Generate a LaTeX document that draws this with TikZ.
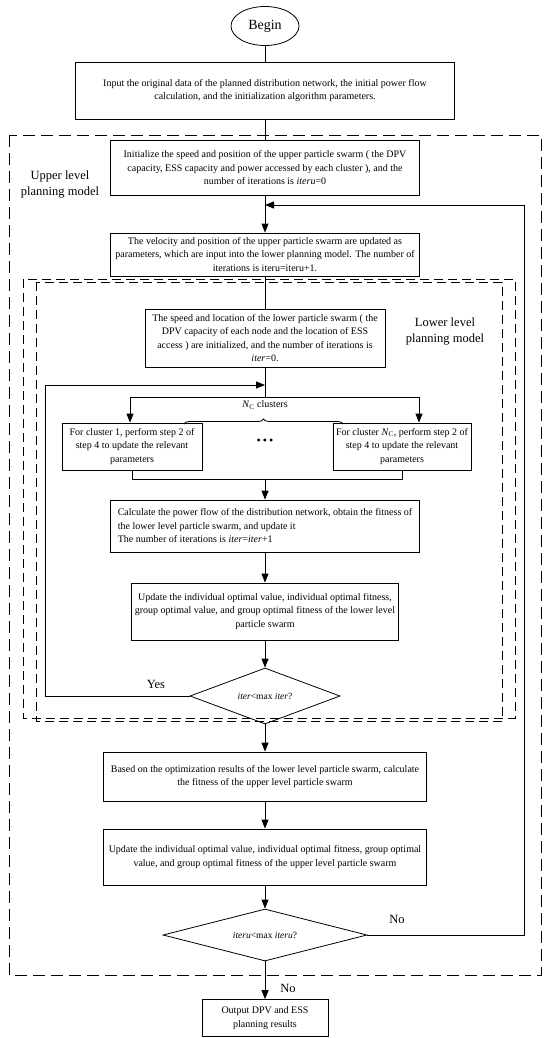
\documentclass[tikz,border=0pt]{standalone}
\usepackage{fontspec}
\setmainfont{Liberation Serif}
\usetikzlibrary{arrows.meta,shapes.geometric,decorations.pathreplacing}
\begin{document}
\begin{tikzpicture}[x=1pt,y=-1pt,
  box/.style={draw, line width=0.8pt, align=center, inner sep=1pt,
    font=\fontsize{10}{13.5}\selectfont},
  dia/.style={draw, diamond, line width=0.8pt, aspect=2.7, inner sep=0pt,
    font=\fontsize{9.5}{11}\selectfont},
  arr/.style={line width=0.8pt, -{Triangle[length=9pt,width=7pt]}},
  ln/.style={line width=0.8pt},
  bigtxt/.style={align=center, inner sep=0pt, font=\fontsize{12.5}{16}\selectfont},
  outerdash/.style={line width=0.8pt, dash pattern=on 12pt off 6pt},
  innerdash/.style={line width=0.8pt, dash pattern=on 9pt off 5pt}]
\useasboundingbox (0,0) rectangle (550,1038);

% dashed frames
\draw[outerdash] (9,135) rectangle (541,975);
\draw[innerdash] (23,279) rectangle (515,718);
\draw[innerdash] (36,282) rectangle (502,721);

% nodes
\node[draw, ellipse, line width=0.8pt, minimum width=68pt, minimum height=39pt, inner sep=0pt,
  font=\fontsize{14}{16}\selectfont] (begin) at (265,26) {Begin};
\node[box, minimum width=379pt, minimum height=57pt] (input) at (265,90.5)
  {Input the original data of the planned distribution network, the initial power flow\\
   calculation, and the initialization algorithm parameters.};
\node[box, minimum width=309pt, minimum height=55.5pt] (upinit) at (265,168)
  {Initialize the speed and position of the upper particle swarm ( the DPV\\
   capacity, ESS capacity and power accessed by each cluster ), and the\\
   number of iterations is \textit{iteru}=0};
\node[box, minimum width=309pt, minimum height=43pt] (upupd) at (265,254.5)
  {The velocity and position of the upper particle swarm are updated as\\
   parameters, which are input into the lower planning model. The number of\\
   iterations is iteru=iteru+1.};
\node[box, minimum width=240pt, minimum height=58pt] (lowinit) at (265,338)
  {The speed and location of the lower particle swarm ( the\\
   DPV capacity of each node and the location of ESS\\
   access ) are initialized, and the number of iterations is\\
   \textit{iter}=0.};
\node[box, minimum width=140pt, minimum height=47pt] (left) at (132,446.5)
  {For cluster 1, perform step 2 of\\ step 4 to update the relevant\\ parameters};
\node[box, minimum width=138pt, minimum height=47pt] (right) at (402,446.5)
  {For cluster \textit{N}\textsubscript{C}, perform step 2 of\\ step 4 to update the relevant\\ parameters};
\node[font=\fontsize{12}{14}\selectfont, inner sep=0pt] (dots) at (265,442)
  {\textbullet\,\textbullet\,\textbullet};
\node[font=\fontsize{10}{12}\selectfont, inner sep=0pt] (nclabel) at (265,405)
  {\textit{N}\textsubscript{C} clusters};
\node[box, align=left, minimum width=309pt, minimum height=52pt] (calc) at (265,526)
  {Calculate the power flow of the distribution network, obtain the fitness of\\
   the lower level particle swarm, and update it\\
   The number of iterations is \textit{iter}=\textit{iter}+1};
\node[box, minimum width=267pt, minimum height=57pt] (lowupd) at (265,611.5)
  {Update the individual optimal value, individual optimal fitness,\\
   group optimal value, and group optimal fitness of the lower level\\
   particle swarm};
\node[dia, minimum width=150pt, minimum height=56pt] (d1) at (265,696)
  {\textit{iter}<max \textit{iter}?};
\node[box, minimum width=323pt, minimum height=49pt] (upfit) at (265,776.5)
  {Based on the optimization results of the lower level particle swarm, calculate\\
   the fitness of the upper level particle swarm};
\node[box, minimum width=323pt, minimum height=56pt] (upupd2) at (265,857)
  {Update the individual optimal value, individual optimal fitness, group optimal\\
   value, and group optimal fitness of the upper level particle swarm};
\node[dia, minimum width=204pt, minimum height=52pt] (d2) at (265,935)
  {\textit{iteru}<max \textit{iteru}?};
\node[box, minimum width=126pt, minimum height=37pt] (output) at (265,1018)
  {Output DPV and ESS\\ planning results};

% labels
\node[bigtxt] (uplab) at (60,185) {Upper level\\planning model};
\node[bigtxt] (lowlab) at (445,332) {Lower level\\planning model};
\node[bigtxt] (yes) at (156,684) {Yes};
\node[bigtxt] (no1) at (397,919) {No};
\node[bigtxt] (no2) at (288,988) {No};

% helper coordinates
\coordinate (loopin) at (265,385);
\coordinate (split) at (265,397);
\coordinate (splitL) at (130,397);
\coordinate (splitR) at (419,397);
\coordinate (mergeL) at (132,479);
\coordinate (mergeR) at (402,479);
\coordinate (merge) at (265,479);
\coordinate (yesc) at (45,696);
\coordinate (yesu) at (45,385);
\coordinate (upin) at (265,205);
\coordinate (noc) at (524,935);
\coordinate (nou) at (524,205);

% connectors
\draw[ln] (begin) -- (input);
\draw[ln] (input) -- (upinit);
\draw[arr] (upinit) -- (upupd);
\draw[ln] (upupd) -- (lowinit);
\draw[ln] (lowinit.south) -- (split);
\draw[ln] (splitL) -- (splitR);
\draw[arr] (splitL) -- (splitL |- left.north);
\draw[arr] (splitR) -- (splitR |- right.north);
\draw[ln] (left.south -| mergeL) -- (mergeL) -- (mergeR) -- (right.south -| mergeR);
\draw[arr] (merge) -- (calc.north);
\draw[arr] (calc) -- (lowupd);
\draw[arr] (lowupd) -- (d1);
\draw[arr] (d1) -- (upfit);
\draw[arr] (upfit) -- (upupd2);
\draw[arr] (upupd2) -- (d2);
\draw[arr] (d2) -- (output);
\draw[ln] (d1.west) -- (yesc) -- (yesu);
\draw[arr] (yesu) -- (loopin);
\draw[ln] (d2.east) -- (noc) -- (nou);
\draw[arr] (nou) -- (upin);

% brace
\draw[line width=0.8pt, decorate, decoration={brace, amplitude=5pt}] (184,424) -- (343,424);
\end{tikzpicture}
\end{document}
